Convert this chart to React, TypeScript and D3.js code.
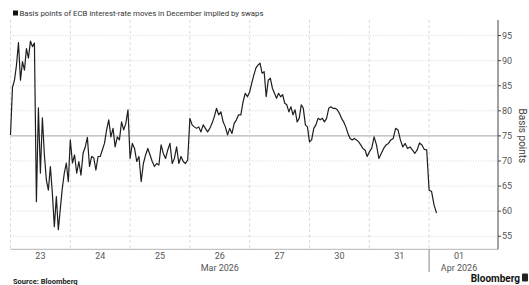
import React, { useEffect, useRef } from "react";
import * as d3 from "d3";

// Dimensões do gráfico
const WIDTH = 529;
const HEIGHT = 285;

// Dias de negociação (eixo x)
const days = ["23", "24", "25", "26", "27", "30", "31", "01"];
const monthLabels = ["Mar 2026", "Apr 2026"];
const monthAnchorDays = ["26", "01"];

// Pontos-base por sessão
const d23 = [75.2, 84.7, 86.1, 89.1, 93.6, 86.1, 89.8, 88.1, 92.4, 90.5, 93.9, 92.8, 93.5, 61.9, 80.6, 67.6, 78.6, 71.2, 66.2, 64.2, 68.9, 63.6, 56.9, 62.9, 56.3, 60.5, 64.6, 67.6, 69.6, 65.9];
const d24 = [74.2, 69.6, 71.2, 67.6, 69.9, 67.2, 71.6, 72.8, 74.7, 68.9, 70.9, 70.6, 68.2, 70.9, 70.9, 72.2, 73.5, 76.2, 78.2, 74.8, 76.5, 72.8, 74.8, 74.2, 77.8, 76.2, 77.5, 80.2];
const d25 = [70.5, 73.5, 72.5, 69.9, 70.9, 65.9, 69.5, 71.2, 72.5, 71.2, 69.9, 68.9, 69.5, 69.2, 73.2, 71.5, 70.5, 72.2, 73.5, 69.5, 70.5, 72.8, 69.5, 70.9, 69.9, 69.5, 70.2];
const d26 = [78.5, 77.2, 76.8, 76.5, 76.8, 75.8, 77.2, 76.5, 75.8, 76.5, 77.5, 78.8, 80.5, 79.2, 79.8, 77.8, 76.8, 75.2, 76.5, 75.5, 77.5, 78.2, 79.2, 79.2, 81.8, 83.5, 82.8];
const d27 = [83.8, 85.5, 87.1, 88.5, 89.1, 89.5, 87.5, 87.8, 82.8, 86.1, 86.5, 84.5, 83.5, 82.5, 83.5, 82.8, 83.2, 81.5, 81.2, 79.8, 80.8, 79.2, 80.2, 77.8, 78.5, 81.2, 80.5, 77.2, 76.8];
const d30 = [73.8, 74.2, 76.5, 77.2, 78.5, 78.2, 78.5, 77.8, 78.5, 80.5, 80.8, 80.5, 80.5, 80.2, 79.5, 78.5, 77.8, 76.8, 75.5, 74.5, 74.2, 74.5, 74.2, 73.8, 73.2, 72.5, 72.2, 70.9];
const d31 = [71.8, 72.5, 74.8, 73.2, 70.5, 71.5, 72.5, 73.2, 73.5, 74.2, 74.5, 76.5, 76.2, 74.2, 72.8, 73.5, 72.5, 72.8, 72.2, 71.5, 72.2, 73.6, 73.2, 72.3, 72.2];
const d01 = [64.2, 63.9, 61.2, 59.6];
const sessions = [d23, d24, d25, d26, d27, d30, d31, d01];

const yTicks = [55, 60, 65, 70, 75, 80, 85, 90, 95];
const baseline = 75;

const FONT = "Roboto, 'Noto Sans', sans-serif";

const App: React.FC = () => {
  const ref = useRef<SVGSVGElement | null>(null);

  useEffect(() => {
    if (!ref.current) return;
    const svg = d3.select(ref.current).attr("width", WIDTH).attr("height", HEIGHT);
    svg.selectAll("*").remove();

    const left = 10.5;
    const right = 498;
    const top = 20;
    const bottom = 249.3;

    const x = d3.scaleBand<string>().domain(days).range([left, left + 8 * 59.8]).padding(0);
    const y = d3.scaleLinear().domain([52.4, 98.1]).range([bottom, top]);
    const bw = x.bandwidth();

    // grade horizontal
    svg
      .selectAll(".hgrid")
      .data(yTicks)
      .enter()
      .append("line")
      .attr("x1", left)
      .attr("x2", right)
      .attr("y1", (d) => y(d))
      .attr("y2", (d) => y(d))
      .attr("stroke", (d) => (d === baseline ? "#9a9a9a" : "#cfcfcf"))
      .attr("stroke-width", (d) => (d === baseline ? 0.9 : 0.8))
      .attr("stroke-dasharray", (d) => (d === baseline ? null : "1,1.5"));

    // grade vertical (início de cada sessão)
    svg
      .selectAll(".vgrid")
      .data(days)
      .enter()
      .append("line")
      .attr("x1", (d) => x(d) || 0)
      .attr("x2", (d) => x(d) || 0)
      .attr("y1", top)
      .attr("y2", bottom)
      .attr("stroke", "#d0d0d0")
      .attr("stroke-width", 0.8)
      .attr("stroke-dasharray", "3,2.5");

    // eixo inferior
    svg.append("line").attr("x1", left).attr("x2", right).attr("y1", bottom).attr("y2", bottom).attr("stroke", "#b5b5b5");

    // separador de mês
    svg
      .append("line")
      .attr("x1", x("01") || 0)
      .attr("x2", x("01") || 0)
      .attr("y1", bottom)
      .attr("y2", 272)
      .attr("stroke", "#888");

    // rótulos dos dias
    svg
      .selectAll(".day")
      .data(days)
      .enter()
      .append("text")
      .attr("x", (d) => (x(d) || 0) + bw / 2)
      .attr("y", 258.5)
      .attr("text-anchor", "middle")
      .attr("font-family", FONT)
      .attr("font-size", 9)
      .attr("fill", "#555")
      .text((d) => d);

    svg
      .selectAll(".month")
      .data(monthLabels)
      .enter()
      .append("text")
      .attr("x", (_, i) => (x(monthAnchorDays[i]) || 0) + bw / 2)
      .attr("y", 270.5)
      .attr("text-anchor", "middle")
      .attr("font-family", FONT)
      .attr("font-size", 9)
      .attr("fill", "#555")
      .text((d) => d);

    // eixo direito
    svg.append("line").attr("x1", right).attr("x2", right).attr("y1", top).attr("y2", bottom).attr("stroke", "#444");
    svg
      .selectAll(".ytick")
      .data(yTicks)
      .enter()
      .append("line")
      .attr("x1", right)
      .attr("x2", right + 3)
      .attr("y1", (d) => y(d))
      .attr("y2", (d) => y(d))
      .attr("stroke", "#444");
    svg
      .selectAll(".ylab")
      .data(yTicks)
      .enter()
      .append("text")
      .attr("x", right + 4)
      .attr("y", (d) => y(d) + 3.2)
      .attr("font-family", FONT)
      .attr("font-size", 9)
      .attr("fill", "#555")
      .text((d) => d);

    svg
      .append("text")
      .attr("transform", `translate(518.5,${y(baseline)}) rotate(90)`)
      .attr("text-anchor", "middle")
      .attr("font-family", FONT)
      .attr("font-size", 10)
      .attr("fill", "#444")
      .text("Basis points");

    // série
    const pts: [number, number][] = [];
    sessions.forEach((vals, i) => {
      const start = x(days[i]) || 0;
      const step = bw / Math.max(vals.length, 24);
      vals.forEach((v, j) => pts.push([start + j * step, y(v)]));
    });
    const line = d3.line<[number, number]>();
    svg
      .append("path")
      .attr("d", line(pts) || "")
      .attr("fill", "none")
      .attr("stroke", "#1e1e1e")
      .attr("stroke-width", 1.2)
      .attr("stroke-linejoin", "round");

    // título
    svg.append("rect").attr("x", 13).attr("y", 10.5).attr("width", 5).attr("height", 5).attr("fill", "#111");
    svg
      .append("text")
      .attr("x", 19.5)
      .attr("y", 16)
      .attr("font-family", FONT)
      .attr("font-size", 7.8)
      .attr("fill", "#333")
      .text("Basis points of ECB interest-rate moves in December implied by swaps");

    // rodapé
    svg
      .append("text")
      .attr("x", 13)
      .attr("y", 283.5)
      .attr("font-family", FONT)
      .attr("font-size", 7.5)
      .attr("font-weight", "bold")
      .attr("fill", "#222")
      .text("Source: Bloomberg");
    svg
      .append("text")
      .attr("x", 520)
      .attr("y", 281.5)
      .attr("text-anchor", "end")
      .attr("font-family", FONT)
      .attr("font-size", 10)
      .attr("font-weight", "bold")
      .attr("fill", "#111")
      .text("Bloomberg");
    svg.append("rect").attr("x", 522).attr("y", 273.5).attr("width", 6).attr("height", 8).attr("rx", 1).attr("fill", "#222");
  }, []);

  return <svg ref={ref} style={{ position: "absolute", left: 0, top: 0, background: "#fff" }} />;
};

export default App;
